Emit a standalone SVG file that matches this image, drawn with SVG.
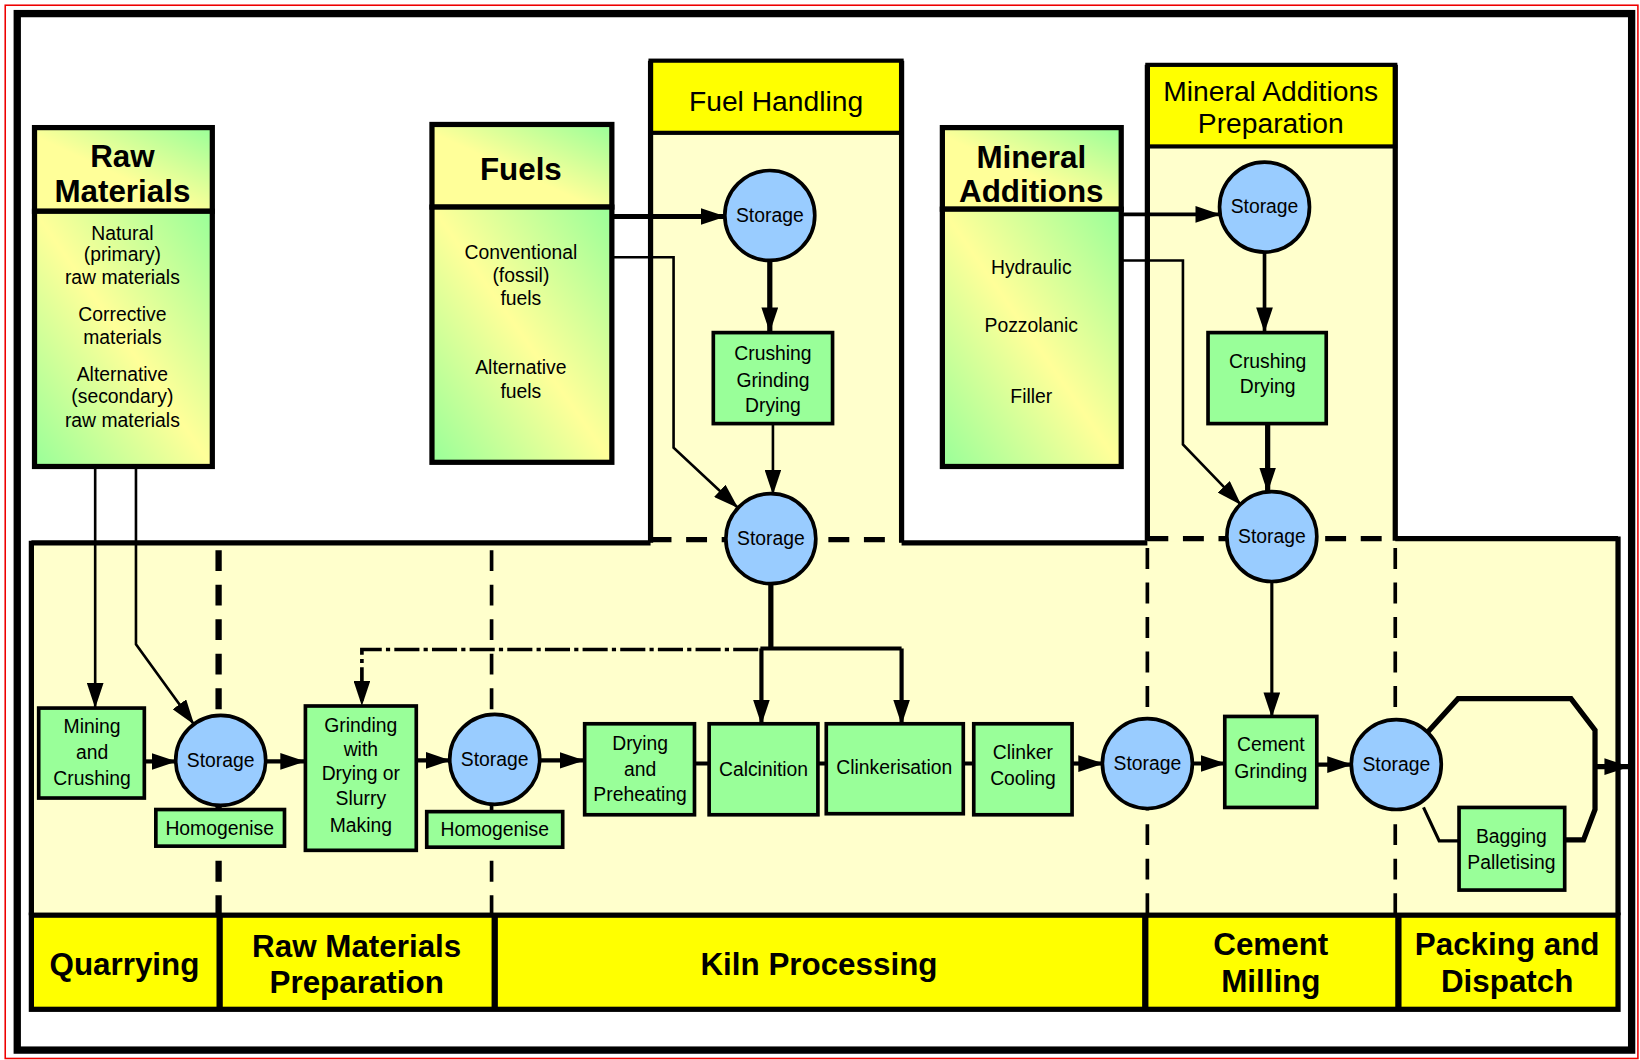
<svg xmlns="http://www.w3.org/2000/svg" width="1640" height="1060" viewBox="0 0 1640 1060">
<defs>
<style>
.t{font-family:"Liberation Sans",Arial,Helvetica,sans-serif;fill:#000;text-anchor:middle}
.n{font-size:18.5px}
.b{font-size:30px;font-weight:bold}
.p{font-size:27px}
.src{stroke:#000;stroke-width:5}
.box{fill:#99ff99;stroke:#000;stroke-width:3.5}
.sto{fill:#99ccff;stroke:#000;stroke-width:3.5}
.c{fill:none;stroke:#000}
.w5{stroke-width:5}
.w4{stroke-width:4}
.w3{stroke-width:3}
.w2{stroke-width:2.5}
.dv{fill:none;stroke:#000;stroke-dasharray:20 13}
.pl{fill:#ffffcc}
.ln{stroke:#000;stroke-width:5;fill:none}
</style>
<linearGradient id="hg" x1="0" y1="1" x2="1" y2="0">
<stop offset="0" stop-color="#ffff99"/><stop offset="0.45" stop-color="#ffff99"/><stop offset="1" stop-color="#99ff99"/>
</linearGradient>
<linearGradient id="bg" x1="1" y1="0" x2="0" y2="1">
<stop offset="0" stop-color="#99ff99"/><stop offset="0.5" stop-color="#ffff99"/><stop offset="1" stop-color="#99ff99"/>
</linearGradient>
<marker id="ah" markerUnits="userSpaceOnUse" markerWidth="24" markerHeight="16" refX="23" refY="8" orient="auto">
<path d="M0,0 L24,8 L0,16 z" fill="#000"/>
</marker>
</defs>
<rect x="0" y="0" width="1640" height="1060" fill="#fff"/>
<g transform="scale(1.045918)">
<rect x="5" y="5" width="1561" height="1007" fill="none" stroke="#e00" stroke-width="1.5"/>
<rect x="16.5" y="13" width="1543.5" height="991" fill="none" stroke="#000" stroke-width="7"/>

<g id="panels">
<rect class="pl" x="30" y="517" width="1517" height="358"/>
<rect class="pl" x="622" y="127" width="240" height="392"/>
<rect class="pl" x="1097" y="140" width="237" height="378"/>
<rect x="622" y="58" width="240" height="69" fill="#ffff00" stroke="#000" stroke-width="4"/>
<text class="t p" x="742" y="106">Fuel Handling</text>
<rect x="1097" y="62" width="237" height="78" fill="#ffff00" stroke="#000" stroke-width="4"/>
<text class="t p" x="1215" y="97">Mineral Additions</text>
<text class="t p" x="1215" y="127">Preparation</text>
<path class="ln" d="M622,58 V519 M862,58 V519 M1097,62 V517 M1334,62 V517"/>
<path class="ln" d="M30,519 H622 M862,519 H1097 M1334,515 H1547 M30,517 V875 M1547,513 V875"/>
<path class="ln" d="M622,516 H862 M1097,515 H1334" stroke-dasharray="20 14"/>
<path class="dv" d="M209,526 V875" stroke-width="6"/>
<path class="dv" d="M470,526 V875" stroke-width="3.5"/>
<path class="dv" d="M1097,524 V875" stroke-width="3.5"/>
<path class="dv" d="M1334,524 V875" stroke-width="3.5"/>
</g>

<g id="stages">
<rect x="30" y="875" width="1517" height="90" fill="#ffff00" stroke="#000" stroke-width="5"/>
<path d="M210,875 V965 M473,875 V965 M1095,875 V965 M1337,875 V965" stroke="#000" stroke-width="6"/>
<text class="t b" x="119" y="932">Quarrying</text>
<text class="t b" x="341" y="915">Raw Materials</text>
<text class="t b" x="341" y="949">Preparation</text>
<text class="t b" x="783" y="932">Kiln Processing</text>
<text class="t b" x="1215" y="913">Cement</text>
<text class="t b" x="1215" y="948">Milling</text>
<text class="t b" x="1441" y="913">Packing and</text>
<text class="t b" x="1441" y="948">Dispatch</text>
</g>

<g id="raw-materials">
<rect class="src" x="33" y="122" width="170" height="80" fill="url(#hg)"/>
<rect class="src" x="33" y="202" width="170" height="244" fill="url(#bg)"/>
<text class="t b" x="117" y="160">Raw</text>
<text class="t b" x="117" y="193">Materials</text>
<text class="t n" x="117" y="229">Natural</text>
<text class="t n" x="117" y="250">(primary)</text>
<text class="t n" x="117" y="272">raw materials</text>
<text class="t n" x="117" y="307">Corrective</text>
<text class="t n" x="117" y="329">materials</text>
<text class="t n" x="117" y="364">Alternative</text>
<text class="t n" x="117" y="385">(secondary)</text>
<text class="t n" x="117" y="408">raw materials</text>
</g>

<g id="fuels">
<rect class="src" x="413" y="119" width="172" height="79" fill="url(#hg)"/>
<rect class="src" x="413" y="198" width="172" height="244" fill="url(#bg)"/>
<text class="t b" x="498" y="172">Fuels</text>
<text class="t n" x="498" y="248">Conventional</text>
<text class="t n" x="498" y="270">(fossil)</text>
<text class="t n" x="498" y="292">fuels</text>
<text class="t n" x="498" y="358">Alternative</text>
<text class="t n" x="498" y="381">fuels</text>
</g>

<g id="mineral-additions">
<rect class="src" x="901" y="122" width="171" height="78" fill="url(#hg)"/>
<rect class="src" x="901" y="200" width="171" height="246" fill="url(#bg)"/>
<text class="t b" x="986" y="161">Mineral</text>
<text class="t b" x="986" y="193">Additions</text>
<text class="t n" x="986" y="262">Hydraulic</text>
<text class="t n" x="986" y="317">Pozzolanic</text>
<text class="t n" x="986" y="385">Filler</text>
</g>

<g id="connectors">
<path class="c w5" d="M586,207 H693" marker-end="url(#ah)"/>
<path class="c w2" d="M586,246 H644 V428 L705,485" marker-end="url(#ah)"/>
<path class="c w5" d="M736,249 V317" marker-end="url(#ah)"/>
<path class="c w2" d="M739,405 V472" marker-end="url(#ah)"/>
<path class="c w5" d="M737,558 V620"/>
<path class="c w4" d="M727,620 H862"/>
<path class="c w4" d="M728,620 V692" marker-end="url(#ah)"/>
<path class="c w4" d="M862,620 V692" marker-end="url(#ah)"/>
<path class="c" stroke-width="3.5" stroke-dasharray="24 4 4 4" d="M725,621 H346 V674" marker-end="url(#ah)"/>
<path class="c w2" d="M91,447 V676" marker-end="url(#ah)"/>
<path class="c w2" d="M130,447 V616 L185,692" marker-end="url(#ah)"/>
<path class="c w4" d="M138,728 H168" marker-end="url(#ah)"/>
<path class="c w4" d="M254,728 H291" marker-end="url(#ah)"/>
<path class="c w4" d="M398,727 H430" marker-end="url(#ah)"/>
<path class="c w4" d="M516,727 H558" marker-end="url(#ah)"/>
<path class="c w4" d="M664,730 H678 M783,730 H790 M921,730 H931"/>
<path class="c w4" d="M1025,730 H1054" marker-end="url(#ah)"/>
<path class="c w4" d="M1140,730 H1171" marker-end="url(#ah)"/>
<path class="c w4" d="M1259,731 H1292" marker-end="url(#ah)"/>
<path class="c w3" d="M1216,556 V685" marker-end="url(#ah)"/>
<path class="c" stroke-width="3.5" d="M1073,205 H1166" marker-end="url(#ah)"/>
<path class="c w2" d="M1073,249 H1131 V425 L1186,482" marker-end="url(#ah)"/>
<path class="c" stroke-width="3.5" d="M1209,241 V317" marker-end="url(#ah)"/>
<path class="c w5" d="M1212,405 V470" marker-end="url(#ah)"/>
<path class="c w5" d="M1364,701 L1394,668 H1502 L1525,698 V774 L1514,803 H1497"/>
<path class="c w3" d="M1361,772 L1376,804 H1395"/>
<path class="c w5" d="M1525,733 H1557" marker-end="url(#ah)"/>
</g>

<g id="storage-fuel-1"><circle class="sto" cx="736" cy="206" r="43"/><text class="t n" x="736" y="212">Storage</text></g>
<g id="fuel-crushing"><rect class="box" x="682" y="318" width="114" height="87"/>
<text class="t n" x="739" y="344">Crushing</text><text class="t n" x="739" y="370">Grinding</text><text class="t n" x="739" y="394">Drying</text></g>
<g id="storage-fuel-2"><circle class="sto" cx="737" cy="515" r="43"/><text class="t n" x="737" y="521">Storage</text></g>
<g id="storage-mineral-1"><circle class="sto" cx="1209" cy="198" r="43"/><text class="t n" x="1209" y="204">Storage</text></g>
<g id="mineral-crushing"><rect class="box" x="1155" y="318" width="113" height="87"/>
<text class="t n" x="1212" y="352">Crushing</text><text class="t n" x="1212" y="376">Drying</text></g>
<g id="storage-mineral-2"><circle class="sto" cx="1216" cy="513" r="43"/><text class="t n" x="1216" y="519">Storage</text></g>

<g id="mining"><rect class="box" x="37" y="677" width="101" height="86"/>
<text class="t n" x="88" y="701">Mining</text><text class="t n" x="88" y="726">and</text><text class="t n" x="88" y="751">Crushing</text></g>
<g id="storage-raw-1"><circle class="sto" cx="211" cy="727" r="43"/><text class="t n" x="211" y="733">Storage</text></g>
<g id="homogenise-1"><rect class="box" x="149" y="774" width="123" height="35"/><text class="t n" x="210" y="798">Homogenise</text></g>
<g id="grinding"><rect class="box" x="292" y="675" width="106" height="138"/>
<text class="t n" x="345" y="700">Grinding</text><text class="t n" x="345" y="723">with</text><text class="t n" x="345" y="746">Drying or</text><text class="t n" x="345" y="770">Slurry</text><text class="t n" x="345" y="795">Making</text></g>
<g id="storage-raw-2"><circle class="sto" cx="473" cy="726" r="43"/><text class="t n" x="473" y="732">Storage</text></g>
<g id="homogenise-2"><rect class="box" x="408" y="776" width="130" height="34"/><text class="t n" x="473" y="799">Homogenise</text></g>
<g id="drying"><rect class="box" x="559" y="692" width="105" height="87"/>
<text class="t n" x="612" y="717">Drying</text><text class="t n" x="612" y="742">and</text><text class="t n" x="612" y="766">Preheating</text></g>
<g id="calcinition"><rect class="box" x="678" y="692" width="104" height="87" stroke-width="4.5"/><text class="t n" x="730" y="742">Calcinition</text></g>
<g id="clinkerisation"><rect class="box" x="790" y="692" width="131" height="86"/><text class="t n" x="855" y="740">Clinkerisation</text></g>
<g id="clinker-cooling"><rect class="box" x="931" y="692" width="94" height="87"/>
<text class="t n" x="978" y="726">Clinker</text><text class="t n" x="978" y="751">Cooling</text></g>
<g id="storage-clinker"><circle class="sto" cx="1097" cy="730" r="43"/><text class="t n" x="1097" y="736">Storage</text></g>
<g id="cement-grinding"><rect class="box" x="1171" y="685" width="88" height="87"/>
<text class="t n" x="1215" y="718">Cement</text><text class="t n" x="1215" y="744">Grinding</text></g>
<g id="storage-cement"><circle class="sto" cx="1335" cy="731" r="43"/><text class="t n" x="1335" y="737">Storage</text></g>
<g id="bagging"><rect class="box" x="1395" y="772" width="101" height="79"/>
<text class="t n" x="1445" y="806">Bagging</text><text class="t n" x="1445" y="831">Palletising</text></g>
</g>
</svg>
